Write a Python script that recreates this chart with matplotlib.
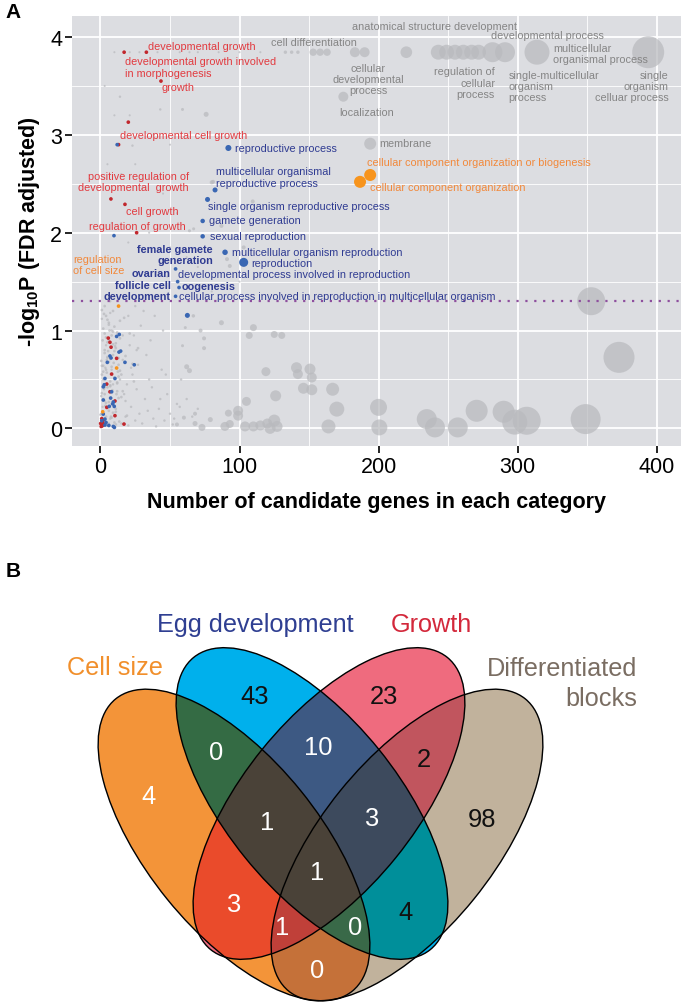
import numpy as np
import matplotlib
matplotlib.use("Agg")
import matplotlib.pyplot as plt
from matplotlib.patches import Ellipse

plt.rcParams["font.family"] = ["Liberation Sans", "DejaVu Sans"]
plt.rcParams["mathtext.fontset"] = "custom"
plt.rcParams["mathtext.rm"] = "Liberation Sans"
plt.rcParams["mathtext.bf"] = "Liberation Sans:bold"

# ---------------- panel A: GO terms ----------------
# x = candidate genes in term, y = -log10 P (FDR), n = term size
grey_x = [133, 137.5, 142, 153, 158, 163, 183, 190, 220, 243, 249, 255, 261, 267, 272, 282, 291, 314, 394,
          174.7, 194,
          10, 21, 28, 41, 57, 64, 70, 85, 100, 115,
          353, 373, 349, 306.6, 298, 290, 270.6, 257, 240.6, 234.7, 200, 200.6, 170, 164, 167, 146, 152, 141,
          142, 150.7, 152, 126, 119, 105, 99, 99, 92, 110, 115, 120, 125, 127, 122, 104, 89.5, 93, 79, 73, 68,
          60, 68, 55,
          110, 107, 125, 130.4, 87, 72, 74.5, 74.5, 61, 59, 62, 64, 66.8,
          76, 59, 43, 14, 10, 21, 23, 81, 80, 109.5, 87, 67, 64, 103, 91, 93, 136,
          5, 15, 30, 45, 55, 35, 50, 62, 70, 20, 40, 12, 30, 48, 80, 100, 8, 25, 38, 50, 3, 30, 60,
          1, 2, 3, 4, 5, 6, 7, 8, 2, 3, 5, 7, 1, 4, 6, 9, 3, 5, 8, 2, 6, 4, 9, 3, 10, 11, 12, 10, 13, 11, 12, 14,
          7, 0.5, 1.5, 2.5, 3.5, 4.5, 6, 8, 9, 0.5, 2, 4, 6, 8, 1, 3, 5, 7,
          15, 18, 20, 22, 25, 17, 19, 23, 16, 21, 26, 28, 30, 32, 27, 24, 29, 33, 35, 38, 40, 42, 36, 44, 46,
          48, 50, 52, 55, 45, 39, 31, 58, 62, 66, 70, 20, 25, 14, 16, 18, 22, 26, 34, 37, 43, 47, 53, 57,
          0, 1, 2, 3, 4, 5, 6, 7, 8, 9, 10, 11, 12, 13, 14, 15, 0.5, 1.5, 2.5, 3.5, 4.5, 5.5, 6.5, 7.5, 8.5,
          9.5, 10.5, 11.5, 12.5, 13.5, 1, 3, 5, 7, 9, 11, 13, 2, 4, 6, 8, 10, 12, 14, 16, 18, 19, 21, 23, 17,
          15, 13, 11, 9, 7, 5, 3, 1, 24, 27]
grey_y = [3.845, 3.845, 3.845, 3.845, 3.845, 3.845, 3.845, 3.845, 3.845, 3.845, 3.845, 3.845, 3.845, 3.845,
          3.845, 3.845, 3.845, 3.845, 3.845,
          3.39, 2.91,
          3.845, 3.845, 3.845, 3.845, 3.845, 3.845, 3.845, 3.845, 3.845, 3.845,
          1.30, 0.726, 0.095, 0.078, 0.064, 0.17, 0.18, 0.01, 0.01, 0.095, 0.215, 0.01, 0.197, 0.02, 0.40,
          0.41, 0.395, 0.62, 0.555, 0.606, 0.52, 0.333, 0.58, 0.276, 0.18, 0.13, 0.156, 0.02, 0.03, 0.05,
          0.08, 0.02, 0.0, 0.02, 0.02, 0.045, 0.09, 0.01, 0.05, 0.11, 0.15, 0.04,
          1.03, 0.95, 0.96, 0.95, 1.08, 1.0, 0.92, 0.82, 1.03, 0.845, 0.63, 0.59, 1.15,
          3.21, 3.26, 3.26, 3.39, 3.2, 3.2, 2.89, 2.52, 2.515, 2.32, 2.07, 2.04, 2.02, 1.85, 1.73, 1.66, 2.86,
          2.7, 2.6, 2.45, 2.4, 2.2, 2.0, 1.85, 1.75, 1.65, 1.9, 1.6, 1.7, 1.45, 1.55, 1.4, 1.5, 2.1, 2.7,
          3.0, 2.9, 3.5, 3.6, 3.5,
          0.02, 0.05, 0.08, 0.12, 0.03, 0.18, 0.1, 0.25, 0.3, 0.35, 0.42, 0.48, 0.55, 0.6, 0.68, 0.75, 0.8,
          0.88, 0.95, 1.02, 1.08, 1.15, 1.2, 1.25, 0.06, 0.2, 0.38, 0.52, 0.65, 0.82, 0.98, 1.1,
          1.3, 0.15, 0.22, 0.4, 0.62, 0.7, 0.9, 1.0, 0.45, 0.33, 0.5, 0.85, 0.05, 0.6, 1.12, 0.28, 0.72, 1.18,
          0.05, 0.12, 0.03, 0.22, 0.08, 0.35, 0.45, 0.55, 0.7, 0.85, 0.4, 0.15, 0.05, 0.3, 0.65, 0.95, 1.05,
          0.75, 0.5, 0.1, 0.02, 0.2, 0.9, 0.6, 0.08, 0.35, 0.15, 0.04, 0.25, 1.0, 1.15, 1.2, 0.5, 0.3, 0.12,
          0.2, 1.15, 1.25, 0.5, 0.95, 0.28, 0.62, 0.8, 0.18, 0.42, 0.3, 0.55, 0.1, 0.22,
          0.14, 0.36, 0.58, 0.77, 0.93, 1.11, 0.27, 0.44, 0.63, 0.86, 1.04, 0.17, 0.47, 0.72, 0.92, 0.32,
          0.69, 0.9, 1.17, 0.23, 0.57, 0.79, 1.0, 0.12, 0.39, 0.67, 0.84, 0.35, 0.58, 0.07, 1.21, 0.97,
          0.73, 0.43, 0.16, 0.87, 0.53, 0.64, 0.26, 1.06, 0.11, 0.79, 0.46, 0.59, 0.38, 0.74, 0.13, 0.97,
          0.66, 1.13, 0.55, 0.31, 0.04, 0.99, 0.71, 0.21, 0.42, 0.64, 0.48, 0.82]
grey_n = [40, 40, 40, 180, 180, 180, 330, 330, 450, 740, 740, 740, 740, 740, 740, 1320, 1320, 2060, 3380,
          330, 476,
          15, 15, 15, 15, 15, 15, 15, 15, 15, 15,
          2590, 3180, 2975, 2590, 2066, 1600, 1600, 1322, 1322, 1322, 955, 846, 744, 648, 560, 400, 400, 400,
          330, 400, 330, 400, 268, 268, 330, 330, 162, 330, 330, 330, 476, 400, 400, 330, 268, 212, 83, 162,
          83, 53, 53, 53,
          162, 162, 162, 162, 83, 53, 53, 53, 30, 30, 83, 83, 40,
          83, 30, 20, 20, 15, 15, 20, 53, 53, 53, 53, 30, 30, 53, 53, 53, 30,
          15, 15, 15, 15, 15, 15, 15, 15, 15, 15, 15, 15, 15, 15, 15, 15, 15, 15, 15, 15, 15, 15, 15,
          25, 25, 25, 25, 25, 25, 25, 25, 25, 25, 25, 25, 25, 25, 25, 25, 25, 25, 25, 25, 25, 25, 25, 25, 25,
          25, 25, 25, 25, 25, 25, 25,
          20, 20, 20, 20, 20, 20, 20, 20, 20, 20, 20, 20, 20, 20, 20, 20, 20, 20,
          20, 20, 20, 20, 20, 20, 20, 20, 20, 20, 20, 20, 20, 20, 20, 20, 20, 20, 20, 20, 20, 20, 20, 20, 20,
          20, 20, 20, 20, 20, 20, 20, 20, 20, 20, 20, 20, 20, 20, 20, 20, 20, 20, 20, 20, 20, 20, 20, 20,
          25, 25, 25, 25, 25, 25, 25, 25, 25, 25, 25, 25, 25, 25, 25, 25, 25, 25, 25, 25, 25, 25, 25, 25, 25,
          25, 25, 25, 25, 25, 25, 25, 25, 25, 25, 25, 25, 25, 25, 25, 25, 25, 25, 25, 25, 25, 25, 25, 25, 25,
          25, 25, 25, 25, 25, 25, 25, 25, 25, 25]

growth_x = [33, 17, 43.5, 20, 13, 7.5, 17.6, 26, 5.6, 6.8, 7.6, 11.6, 8, 4.5, 6.8, 4.5, 10.4, 10.4, 0.9, 2,
            0.1, 1.3, 16.9, 1.5, 2.5, 0.5]
growth_y = [3.845, 3.845, 3.55, 3.13, 2.9, 2.345, 2.29, 2.0, 0.923, 0.88, 0.83, 0.716, 0.555, 0.453, 0.374,
            0.215, 0.28, 0.13, 0.1, 0.085, 0.05, 0.027, 0.044, 0.06, 0.04, 0.02]

egg_x = [92, 82.4, 77, 73.5, 73.5, 89.6, 103, 54, 55.5, 56.5, 54, 62.5, 12, 9.7,
         13.5, 11.6, 14.5, 13.3, 6.8, 7.6, 4.9, 17.6, 24.3, 10.4, 3.2, 2.7, 2.0, 8, 2, 7.3, 9.2, 8.8, 6.3,
         9.9, 2, 3.2, 9.2, 3.2, 0.9, 4, 6, 10]
egg_y = [2.866, 2.437, 2.34, 2.12, 1.963, 1.80, 1.697, 1.63, 1.50, 1.44, 1.35, 1.155, 2.9, 1.97,
         0.96, 0.94, 0.79, 0.78, 0.74, 0.72, 0.675, 0.675, 0.65, 0.51, 0.51, 0.446, 0.425, 0.374, 0.29, 0.31,
         0.27, 0.25, 0.225, 0.225, 0.146, 0.095, 0.02, 0.034, 0.078, 0.06, 0.03, 0.01]
egg_n = [120, 83, 83, 67, 67, 100, 268, 45, 45, 45, 45, 83, 45, 45,
         45, 45, 45, 45, 45, 45, 45, 45, 45, 45, 45, 45, 45, 45, 45, 45, 45, 45, 45, 45, 45, 45, 45, 45, 45,
         45, 45, 45]

cellsize_x = [194, 186.7, 13, 11.6, 1.6]
cellsize_y = [2.59, 2.52, 1.25, 0.617, 0.17]
cellsize_n = [476, 476, 45, 45, 45]

fdr_cutoff = 0.05

# label text, x, y, ha, group, bold
term_labels = [
    ("anatomical structure development", 240, 4.117, "center", "grey", False),
    ("cell differentiation", 153.4, 3.953, "center", "grey", False),
    ("developmental process", 321.3, 4.02, "center", "grey", False),
    ("multicellular\norganismal process", 325.8, 3.835, "left", "grey", False),
    ("cellular\ndevelopmental\nprocess", 192.7, 3.574, "center", "grey", False),
    ("regulation of\ncellular\nprocess", 283.8, 3.535, "right", "grey", False),
    ("single-multicellular\norganism\nprocess", 293.4, 3.498, "left", "grey", False),
    ("single\norganism\ncelluar process", 408.5, 3.498, "right", "grey", False),
    ("localization", 191.5, 3.23, "center", "grey", False),
    ("membrane", 200.4, 2.917, "left", "grey", False),
    ("developmental growth", 34.4, 3.906, "left", "growth", False),
    ("developmental growth involved\nin morphogenesis", 17.6, 3.694, "left", "growth", False),
    ("growth", 44, 3.49, "left", "growth", False),
    ("developmental cell growth", 14, 3.0, "left", "growth", False),
    ("positive regulation of\ndevelopmental  growth", 63.7, 2.52, "right", "growth", False),
    ("cell growth", 18.3, 2.225, "left", "growth", False),
    ("regulation of growth", -8, 2.065, "left", "growth", False),
    ("regulation\nof cell size", -19.5, 1.672, "left", "cellsize", False),
    ("cellular component organization or biogenesis", 191.5, 2.72, "left", "cellsize", False),
    ("cellular component organization", 193.9, 2.464, "left", "cellsize", False),
    ("reproductive process", 96.8, 2.866, "left", "egg", False),
    ("multicellular organismal\nreproductive process", 82.9, 2.57, "left", "egg", False),
    ("single organism reproductive process", 77.6, 2.276, "left", "egg", False),
    ("gamete generation", 78, 2.133, "left", "egg", False),
    ("sexual reproduction", 78.8, 1.969, "left", "egg", False),
    ("multicellular organism reproduction", 94.8, 1.806, "left", "egg", False),
    ("reproduction", 108.8, 1.69, "left", "egg", False),
    ("developmental process involved in reproduction", 56, 1.578, "left", "egg", False),
    ("oogenesis", 58.4, 1.452, "left", "egg", True),
    ("cellular process involved in reproduction in multicellular organism", 56.5, 1.356, "left", "egg", False),
    ("female gamete\ngeneration", 81, 1.774, "right", "egg", True),
    ("ovarian\nfollicle cell\ndevelopment", 50.5, 1.47, "right", "egg", True),
]

# ---------------- panel B: Venn counts ----------------
venn_sets = ["Cell size", "Egg development", "Growth", "Differentiated\nblocks"]
region_keys = ["1000", "0100", "0010", "0001", "1100", "0110", "0011", "1010", "0101", "1001",
               "1110", "0111", "1011", "1101", "1111"]
region_counts = [4, 43, 23, 98, 0, 10, 2, 3, 4, 0, 1, 3, 1, 0, 1]

text_colors = {"grey": "#858585", "growth": "#e23a3f", "egg": "#2f3b92", "cellsize": "#f2883a"}
dot_colors = {"grey": "#b9babe", "growth": "#c1272d", "egg": "#3a67b3", "cellsize": "#f7941d"}


def area(n):
    # marker area proportional to term size
    return 0.157 * np.asarray(n, dtype=float)


fig = plt.figure(figsize=(6.85, 10.03), dpi=100)
fig.patch.set_facecolor("white")

ax = fig.add_axes([72 / 685, 1 - 447 / 1003, 609 / 685, 430 / 1003])
ax.set_facecolor("#dcdde1")
ax.set_xlim(-20.5, 417.6)
ax.set_ylim(-0.18, 4.215)
ax.set_xticks([0, 100, 200, 300, 400])
ax.set_yticks([0, 1, 2, 3, 4])
ax.set_xticks([50, 150, 250, 350], minor=True)
ax.set_yticks([0.5, 1.5, 2.5, 3.5], minor=True)
ax.grid(which="major", color="white", lw=1.3)
ax.grid(which="minor", color="white", lw=0.6)
ax.set_axisbelow(True)
for sp in ax.spines.values():
    sp.set_visible(False)
ax.tick_params(which="major", length=5, width=1.2, color="black", labelsize=15.5, pad=2)
ax.tick_params(which="minor", length=0)

ax.scatter(grey_x, grey_y, s=area(grey_n), color=dot_colors["grey"], alpha=0.72, lw=0, zorder=2)
ax.scatter(growth_x, growth_y, s=area([45] * len(growth_x)), color=dot_colors["growth"], lw=0, zorder=3)
ax.scatter(egg_x, egg_y, s=area(egg_n), color=dot_colors["egg"], lw=0, zorder=3)
ax.scatter(cellsize_x, cellsize_y, s=area(cellsize_n), color=dot_colors["cellsize"], lw=0, zorder=3)
ax.axhline(-np.log10(fdr_cutoff), color="#8e4f9e", lw=1.6, ls=(0, (1, 3)), zorder=4)

for text, x, y, ha, group, bold in term_labels:
    ax.text(x, y, text, ha=ha, va="center", fontsize=7.8, color=text_colors[group],
            fontweight="bold" if bold else "normal", linespacing=1.15, zorder=5)

ax.set_xlabel("Number of candidate genes in each category", fontsize=15.5, fontweight="bold", labelpad=10)
ax.set_ylabel("-log$_{\\mathbf{10}}$P (FDR adjusted)", fontsize=15.5, fontweight="bold", labelpad=6)

fig.text(0.008, 0.997, "A", fontsize=15, fontweight="bold", va="top")
fig.text(0.008, 1 - 562 / 1003, "B", fontsize=15, fontweight="bold", va="top")

# ---------------- Venn (drawn in pixel-like units, y downwards) ----------------
vx = fig.add_axes([0, 0, 1, 443 / 1003])
x0, x1, y0, y1 = 0, 685, 560, 1003
vx.set_xlim(x0, x1)
vx.set_ylim(y1, y0)
vx.axis("off")

# centre x, centre y, angle of major axis
ellipses = [(234, 846, 51), (312, 804.5, 51), (329, 804.5, -51), (407, 846, -51)]
semi_a, semi_b = 188, 86
region_colors = {
    "1000": "#f3943a", "0100": "#00b1ec", "0010": "#ef6b7e", "0001": "#c1b29c",
    "1100": "#356b45", "0110": "#3d5a83", "0011": "#c1555e", "1010": "#eb4b2b",
    "0101": "#008f9b", "1001": "#c5713a", "1110": "#4a4238", "0111": "#3d4a5d",
    "1011": "#c0403a", "1101": "#3a6a48", "1111": "#4a4238",
}

gx = np.linspace(x0, x1, 1370)
gy = np.linspace(y0, y1, 886)
X, Y = np.meshgrid(gx, gy)
member = []
for cx, cy, ang in ellipses:
    t = np.deg2rad(ang)
    du, dv = X - cx, Y - cy
    u = du * np.cos(t) + dv * np.sin(t)
    v = -du * np.sin(t) + dv * np.cos(t)
    member.append((u / semi_a) ** 2 + (v / semi_b) ** 2 <= 1)
img = np.zeros(X.shape + (4,))
for key, col in region_colors.items():
    mask = np.ones(X.shape, bool)
    for i, c in enumerate(key):
        mask &= member[i] if c == "1" else ~member[i]
    img[mask] = matplotlib.colors.to_rgba(col)
vx.imshow(img, extent=(x0, x1, y1, y0), origin="upper", aspect="auto", interpolation="antialiased")
for cx, cy, ang in ellipses:
    vx.add_patch(Ellipse((cx, cy), 2 * semi_a, 2 * semi_b, angle=ang, fill=False, ec="black", lw=1.0))

region_pos = {
    "1000": (148.3, 796.7), "0100": (255, 696.7), "0010": (384, 696.7), "0001": (481.7, 820),
    "1100": (216, 753.3), "0110": (318.3, 748.3), "0011": (424.3, 760), "1110": (266.7, 823.3),
    "0111": (370.7, 819.3), "1111": (317.3, 873.3), "1010": (233.3, 905), "0101": (406, 913.3),
    "1011": (282.3, 928.3), "1101": (355, 928.3), "1001": (317.3, 970.7),
}
dark_text = {"0100", "0010", "0001", "0011", "0101"}
for key, cnt in zip(region_keys, region_counts):
    px, py = region_pos[key]
    vx.text(px, py, str(cnt), ha="center", va="center", fontsize=18.4,
            color="#111111" if key in dark_text else "white")

set_style = [((162.7, 668), "right", "#f18f2b"), ((255, 625), "center", "#2f3f92"),
             ((431.7, 625), "center", "#d3283b"), ((637, 684), "right", "#7a6d62")]
for name, ((tx, ty), ha, col) in zip(venn_sets, set_style):
    vx.text(tx, ty, name, ha=ha, va="center", fontsize=18.2, color=col, linespacing=1.35)

fig.savefig("out.png", dpi=100)
